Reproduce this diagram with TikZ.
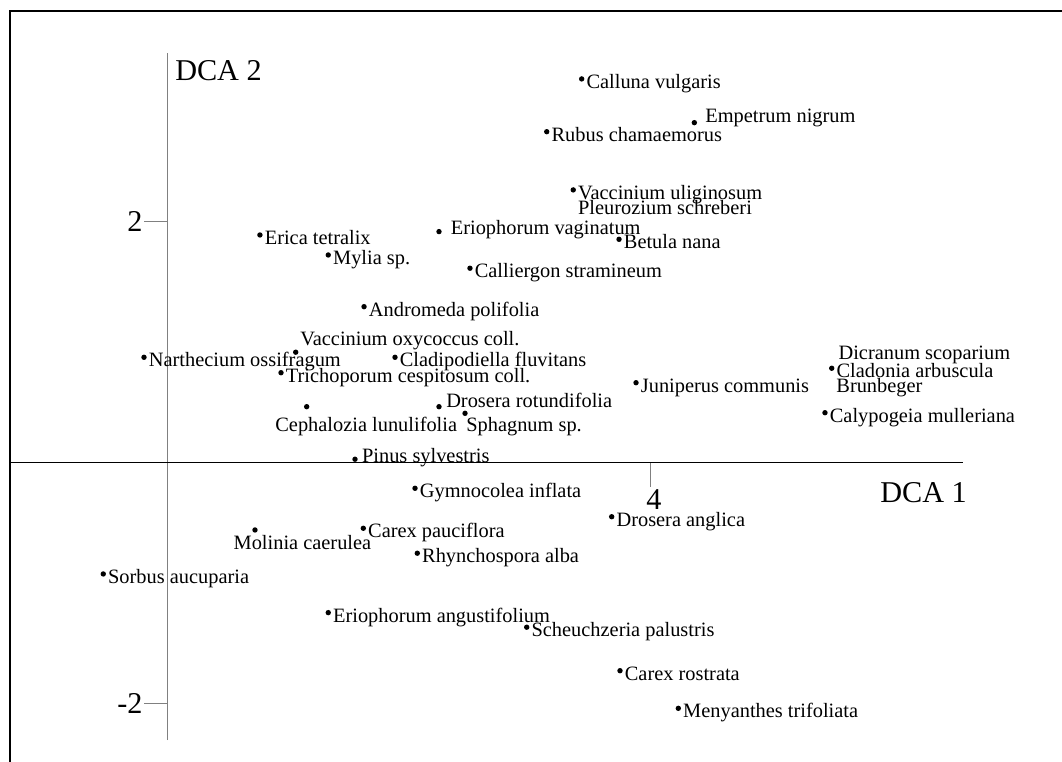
\documentclass[tikz,border=0pt]{standalone}
\usepackage{fontspec}
\setmainfont{Liberation Serif}
\usetikzlibrary{positioning}

\tikzset{
  dot/.style={circle,fill=black,inner sep=0pt,minimum size=0.135cm},
  species/.style={anchor=base west,inner sep=0pt,font=\fontsize{14.5}{17}\selectfont},
  beside/.style={species,xshift=0.115cm,yshift=-0.24cm},
  axisname/.style={anchor=base west,inner sep=0pt,font=\fontsize{21.5}{26}\selectfont},
  ticklabel/.style={inner sep=0pt,font=\fontsize{21.5}{26}\selectfont},
  axis/.style={line width=0.7pt},
}

\begin{document}
\begin{tikzpicture}[x=3.0125cm,y=3.0125cm]
    \useasboundingbox (-1.394,-2.481) rectangle (7.419,3.842);
    % frame (cut by the page on the right and at the bottom)
    \draw[line width=1.4pt] (-1.311,-2.481) |- (7.419,3.751);

    % axes and ticks
    \draw[axis,gray] (0,-2.299) -- (0,3.400);
    \draw[axis] (-1.311,0) -- (6.600,0);
    \coordinate (tick2) at (-0.199,2);
    \coordinate (tickm2) at (-0.199,-2);
    \coordinate (tick4) at (4,-0.199);
    \draw[axis,gray] (tick2) -- (0,2);
    \draw[axis,gray] (tickm2) -- (0,-2);
    \draw[axis,gray] (tick4) -- (4,0);
    \node[ticklabel,left=0.03cm of tick2] (two) {2};
    \node[ticklabel,left=0.03cm of tickm2] (mtwo) {-2};
    \node[ticklabel,below=0.07cm of tick4,xshift=0.1cm] (four) {4};
    \node at (0.058,3.178)[axisname] (dca2) {DCA 2};
    \node at (5.909,-0.332)[axisname] (dca1) {DCA 1};

    % species scores
    \node at (3.433,3.187)[dot] (calluna) {};
    \node at (calluna)[beside] (calluna-t) {Calluna vulgaris};
    \node at (4.368,2.824)[dot] (empetrum) {};
    \node at (empetrum)[species,xshift=0.27cm] (empetrum-t) {Empetrum nigrum};
    \node at (3.143,2.749)[dot] (rubus) {};
    \node at (rubus)[beside] (rubus-t) {Rubus chamaemorus};
    \node at (3.363,2.266)[dot] (vaculig) {};
    \node at (vaculig)[beside] (vaculig-t) {Vaccinium uliginosum};
    \node at (vaculig)[species,xshift=0.115cm,yshift=-0.625cm] (pleurozium-t) {Pleurozium schreberi};
    \node at (2.249,1.920)[dot] (eriovag) {};
    \node at (eriovag)[species,xshift=0.29cm,yshift=-0.08cm] (eriovag-t) {Eriophorum vaginatum};
    \node at (3.743,1.856)[dot] (betula) {};
    \node at (betula)[beside] (betula-t) {Betula nana};
    \node at (0.763,1.892)[dot] (erica) {};
    \node at (erica)[beside] (erica-t) {Erica tetralix};
    \node at (1.330,1.726)[dot] (mylia) {};
    \node at (mylia)[beside] (mylia-t) {Mylia sp.};
    \node at (2.506,1.616)[dot] (calliergon) {};
    \node at (calliergon)[beside] (calliergon-t) {Calliergon stramineum};
    \node at (1.627,1.297)[dot] (andromeda) {};
    \node at (andromeda)[beside] (andromeda-t) {Andromeda polifolia};
    \node at (1.060,0.919)[dot] (vacoxy) {};
    \node at (vacoxy)[species,xshift=0.11cm,yshift=0.18cm] (vacoxy-t) {Vaccinium oxycoccus coll.};
    \node at (-0.199,0.877)[dot] (narthecium) {};
    \node at (narthecium)[beside] (narthecium-t) {Narthecium ossifragum};
    \node at (1.884,0.877)[dot] (cladipod) {};
    \node at (cladipod)[beside] (cladipod-t) {Cladipodiella fluvitans};
    \node at (0.938,0.749)[dot] (trichop) {};
    \node at (trichop)[beside] (trichop-t) {Trichoporum cespitosum coll.};
    \node at (3.884,0.666)[dot] (juniperus) {};
    \node at (juniperus)[beside] (juniperus-t) {Juniperus communis};
    \node at (2.249,0.467)[dot] (drosrot) {};
    \node at (drosrot)[species,xshift=0.175cm,yshift=-0.03cm] (drosrot-t) {Drosera rotundifolia};
    \node at (2.465,0.412)[dot] (sphagnum) {};
    \node at (sphagnum)[species,xshift=0.025cm,yshift=-0.46cm] (sphagnum-t) {Sphagnum sp.};
    \node at (1.151,0.467)[dot] (cephalozia) {};
    \node at (cephalozia)[species,xshift=-0.79cm,yshift=-0.625cm] (cephalozia-t) {Cephalozia lunulifolia};
    \node at (1.552,0.031)[dot] (pinus) {};
    \node at (pinus)[species,xshift=0.17cm,yshift=-0.085cm] (pinus-t) {Pinus sylvestris};
    \node at (5.508,0.786)[dot] (cladonia) {};
    \node at (cladonia)[species,xshift=0.165cm,yshift=0.21cm] (dicranum-t) {Dicranum scoparium};
    \node at (cladonia)[beside] (cladonia-t) {Cladonia arbuscula};
    \node at (cladonia)[species,xshift=0.11cm,yshift=-0.61cm] (brunbeger-t) {Brunbeger};
    \node at (5.452,0.417)[dot] (calypog) {};
    \node at (calypog)[beside] (calypog-t) {Calypogeia mulleriana};

    \node at (2.050,-0.210)[dot] (gymnocolea) {};
    \node at (gymnocolea)[beside] (gymnocolea-t) {Gymnocolea inflata};
    \node at (3.682,-0.446)[dot] (drosang) {};
    \node at (drosang)[beside] (drosang-t) {Drosera anglica};
    \node at (1.621,-0.542)[dot] (carexpau) {};
    \node at (carexpau)[beside] (carexpau-t) {Carex pauciflora};
    \node at (0.722,-0.556)[dot] (molinia) {};
    \node at (molinia)[species,xshift=-0.54cm,yshift=-0.48cm] (molinia-t) {Molinia caerulea};
    \node at (2.069,-0.749)[dot] (rhynch) {};
    \node at (rhynch)[beside] (rhynch-t) {Rhynchospora alba};
    \node at (-0.537,-0.921)[dot] (sorbus) {};
    \node at (sorbus)[beside] (sorbus-t) {Sorbus aucuparia};
    \node at (1.330,-1.242)[dot] (erioang) {};
    \node at (erioang)[beside] (erioang-t) {Eriophorum angustifolium};
    \node at (2.977,-1.363)[dot] (scheuch) {};
    \node at (scheuch)[beside] (scheuch-t) {Scheuchzeria palustris};
    \node at (3.751,-1.724)[dot] (carexros) {};
    \node at (carexros)[beside] (carexros-t) {Carex rostrata};
    \node at (4.235,-2.036)[dot] (menyanthes) {};
    \node at (menyanthes)[beside] (menyanthes-t) {Menyanthes trifoliata};
\end{tikzpicture}
\end{document}
